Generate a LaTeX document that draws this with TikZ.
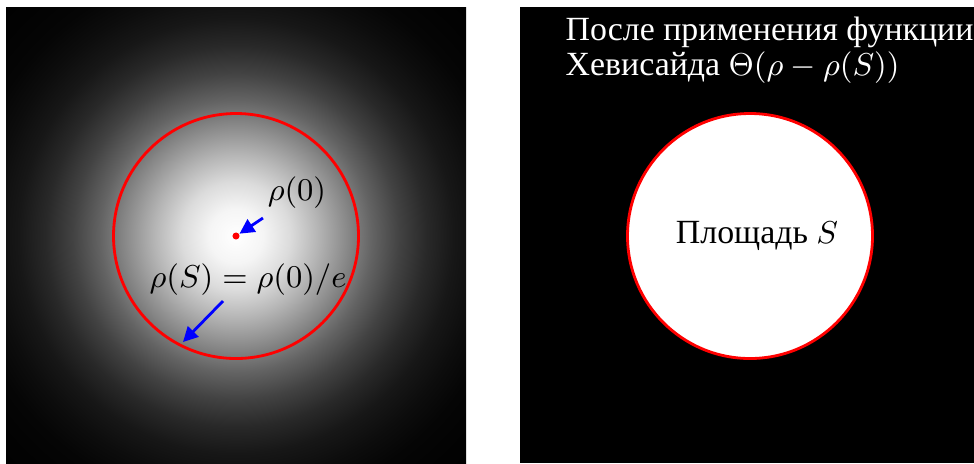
\documentclass[tikz,border=0pt]{standalone}
\usepackage{amsmath,amssymb}
\usepackage{fontspec}
\newfontfamily\cyrfont{Liberation Serif}[Scale=1.07]
\usepackage{tikz}
\usetikzlibrary{arrows.meta}
\pgfdeclareradialshading{gaussglow}{\pgfpoint{0bp}{0bp}}{%
  color(0bp)=(white); color(2bp)=(white!96!black); color(4bp)=(white!86!black);
  color(6bp)=(white!71!black); color(8bp)=(white!55!black); color(10bp)=(white!39!black);
  color(12bp)=(white!26!black); color(14bp)=(white!16!black); color(16bp)=(white!9!black);
  color(18bp)=(white!5!black); color(20bp)=(white!2!black); color(22bp)=(white!1!black);
  color(25bp)=(black); color(50bp)=(black)}

\begin{document}
\begin{tikzpicture}[x=0.01cm, y=-0.01cm, every node/.style={font=\fontsize{9}{10}\selectfont}, >={Triangle[length=4.2pt,width=4.2pt]}]
	\useasboundingbox (0,0) rectangle (974,463);
	\fill[black] (6,7) rectangle (466,463);
	\begin{scope}
		\clip (6,7) rectangle (466,463);
		\shade[shading=gaussglow] (236,236) circle (340);
	\end{scope}
	\draw[red, line width=0.8pt] (236,236) circle (122.5);
	\node[circle, fill=red, inner sep=0pt, minimum size=2pt] (centre) at (236,236) {};
	\node (rhozero) at (297,193) {$\rho(0)$};
	\node (rhoS) at (248,280) {$\rho(S)=\rho(0)/e$};
	\coordinate (tailA) at (263,218);
	\coordinate (tailB) at (223,301);
	\coordinate (rimB) at (183,342);
	\draw[->, blue, line width=0.8pt] (tailA) -- (centre);
	\draw[->, blue, line width=0.8pt] (tailB) -- (rimB);
	\fill[black] (520,7) rectangle (974,463);
	\node[text=white, anchor=base west, inner sep=0pt] (headA) at (565,40) {\cyrfont После применения функции};
	\node[text=white, anchor=base west, inner sep=0pt] (headB) at (565,75) {\cyrfont Хевисайда $\Theta(\rho-\rho(S))$};
	\draw[red, fill=white, line width=0.8pt] (750,236) circle (122.5);
	\node[anchor=base] (area) at (757,243) {\cyrfont Площадь $S$};
\end{tikzpicture}
\end{document}
